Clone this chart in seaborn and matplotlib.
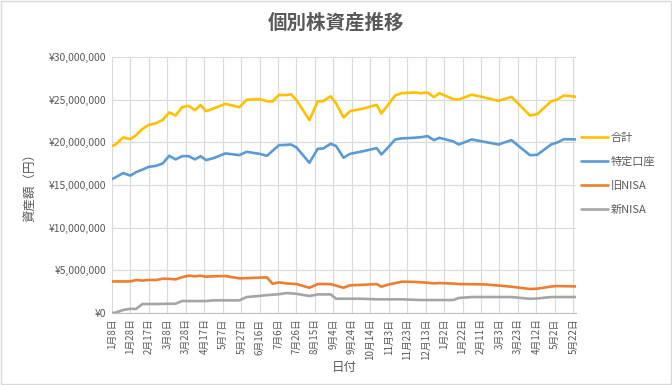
import pandas as pd
import numpy as np
import matplotlib
matplotlib.use("Agg")
import matplotlib.pyplot as plt
import matplotlib.ticker as mticker
import seaborn as sns

# ------------------------------------------
# DATA (in millions of yen)
# ------------------------------------------
dates = [
    "2024-01-08", "2024-01-12", "2024-01-20", "2024-01-28", "2024-02-03", "2024-02-10",
    "2024-02-17", "2024-02-25", "2024-03-03", "2024-03-10", "2024-03-17", "2024-03-24",
    "2024-03-31", "2024-04-07", "2024-04-13", "2024-04-19", "2024-04-27", "2024-05-10",
    "2024-05-25", "2024-06-02", "2024-06-16", "2024-06-24", "2024-06-30", "2024-07-07",
    "2024-07-15", "2024-07-20", "2024-07-26", "2024-08-09", "2024-08-18", "2024-08-24",
    "2024-09-01", "2024-09-07", "2024-09-15", "2024-09-22", "2024-10-05", "2024-10-21",
    "2024-10-26", "2024-11-02", "2024-11-10", "2024-11-17", "2024-11-30", "2024-12-08",
    "2024-12-15", "2024-12-22", "2024-12-28", "2025-01-12", "2025-01-18", "2025-02-01",
    "2025-02-15", "2025-03-02", "2025-03-16", "2025-04-05", "2025-04-13", "2025-04-28",
    "2025-05-04", "2025-05-12", "2025-05-25",
]

total = [
    19.56, 19.75, 20.57, 20.37, 20.84, 21.58, 22.05, 22.25, 22.63, 23.50, 23.15, 24.12,
    24.28, 23.77, 24.39, 23.65, 23.97, 24.51, 24.12, 24.98, 25.06, 24.82, 24.79, 25.56,
    25.53, 25.64, 24.94, 22.60, 24.82, 24.82, 25.40, 24.55, 22.92, 23.65, 23.93, 24.39,
    23.38, 24.36, 25.49, 25.76, 25.84, 25.76, 25.84, 25.29, 25.76, 25.06, 25.02, 25.58,
    25.25, 24.86, 25.33, 23.15, 23.30, 24.82, 24.98, 25.49, 25.33,
]

tokutei = [
    15.70, 15.90, 16.40, 16.10, 16.50, 16.80, 17.13, 17.25, 17.53, 18.42, 18.00, 18.38,
    18.38, 18.00, 18.38, 17.92, 18.15, 18.70, 18.50, 18.89, 18.65, 18.42, 19.00, 19.67,
    19.70, 19.75, 19.40, 17.60, 19.24, 19.28, 19.83, 19.56, 18.19, 18.65, 18.93, 19.32,
    18.58, 19.36, 20.34, 20.46, 20.53, 20.60, 20.73, 20.26, 20.53, 20.10, 19.75, 20.34,
    20.05, 19.75, 20.26, 18.50, 18.54, 19.75, 19.95, 20.37, 20.34,
]

old_nisa = [
    3.70, 3.70, 3.70, 3.70, 3.87, 3.80, 3.87, 3.87, 4.02, 4.00, 3.94, 4.20,
    4.37, 4.30, 4.37, 4.25, 4.30, 4.33, 4.06, 4.08, 4.15, 4.17, 3.43, 3.59,
    3.47, 3.43, 3.39, 2.96, 3.39, 3.39, 3.39, 3.20, 2.96, 3.24, 3.30, 3.39,
    3.08, 3.32, 3.50, 3.67, 3.65, 3.60, 3.55, 3.47, 3.51, 3.45, 3.39, 3.37,
    3.35, 3.22, 3.08, 2.81, 2.85, 3.10, 3.16, 3.14, 3.12,
]

new_nisa = [
    0.00, 0.05, 0.35, 0.50, 0.47, 1.05, 1.05, 1.05, 1.07, 1.08, 1.09, 1.40,
    1.40, 1.40, 1.40, 1.40, 1.48, 1.48, 1.48, 1.87, 2.00, 2.10, 2.14, 2.20,
    2.34, 2.30, 2.25, 1.99, 2.18, 2.18, 2.18, 1.67, 1.67, 1.67, 1.67, 1.60,
    1.60, 1.60, 1.60, 1.60, 1.55, 1.52, 1.52, 1.52, 1.52, 1.52, 1.76, 1.87,
    1.87, 1.87, 1.87, 1.67, 1.70, 1.87, 1.87, 1.87, 1.87,
]

series_names = ["合計", "特定口座", "旧NISA", "新NISA"]
colors = ["#FFC000", "#5B9BD5", "#ED7D31", "#A5A5A5"]

df = pd.DataFrame({
    "日付": pd.to_datetime(dates),
    "合計": np.array(total) * 1e6,
    "特定口座": np.array(tokutei) * 1e6,
    "旧NISA": np.array(old_nisa) * 1e6,
    "新NISA": np.array(new_nisa) * 1e6,
})
long_df = df.melt(id_vars="日付", var_name="口座", value_name="資産額")

# ------------------------------------------
# PLOT
# ------------------------------------------
sns.set_style("white")
plt.rcParams["font.family"] = ["Noto Sans CJK JP", "DejaVu Sans"]
text_color = "#595959"

fig = plt.figure(figsize=(6.72, 3.85), dpi=100)
ax = fig.add_axes([112 / 672, 1 - 313 / 385, (576 - 112) / 672, (313 - 57) / 385])

sns.lineplot(data=long_df, x="日付", y="資産額", hue="口座",
             hue_order=series_names, palette=colors, linewidth=1.9, ax=ax)

# x axis: a tick every 20 days
tick_dates = pd.date_range("2024-01-08", "2025-05-22", freq="20D")
ax.set_xticks(tick_dates)
ax.set_xticklabels([f"{d.month}月{d.day}日" for d in tick_dates],
                   rotation=90, fontsize=7, color=text_color)
ax.set_xlim(pd.Timestamp("2024-01-08"), pd.Timestamp("2025-05-25"))

ax.set_ylim(0, 30_000_000)
ax.set_yticks(np.arange(0, 30_000_001, 5_000_000))
ax.yaxis.set_major_formatter(mticker.FuncFormatter(lambda v, p: f"¥{v:,.0f}"))
ax.tick_params(axis="y", labelsize=7.5, labelcolor=text_color, length=0, pad=4)
ax.tick_params(axis="x", length=0, pad=4)

ax.grid(True, color="#D9D9D9", linewidth=0.8)
for side in ["top", "right", "left"]:
    ax.spines[side].set_visible(False)
ax.spines["bottom"].set_color("#BFBFBF")

ax.set_xlabel("日付", fontsize=9, color=text_color, labelpad=1)
ax.set_ylabel("資産額（円）", fontsize=9, color=text_color, labelpad=9)

fig.text(0.5, 1 - 23 / 385, "個別株資産推移", ha="center", va="center",
         fontsize=14, fontweight="bold", color=text_color)

leg = ax.legend(loc="upper left", bbox_to_anchor=(581 / 672, 1 - 133 / 385),
                bbox_transform=fig.transFigure, borderaxespad=0, borderpad=0,
                frameon=False, fontsize=8, handlelength=2.4, handletextpad=0.3,
                labelspacing=1.25, title=None)
for t in leg.get_texts():
    t.set_color(text_color)

# light frame around the whole chart
fig.patches.append(plt.Rectangle((0.002, 0.003), 0.996, 0.994, transform=fig.transFigure,
                                 fill=False, edgecolor="#D9D9D9", linewidth=1))

fig.savefig("out.png", dpi=100)
